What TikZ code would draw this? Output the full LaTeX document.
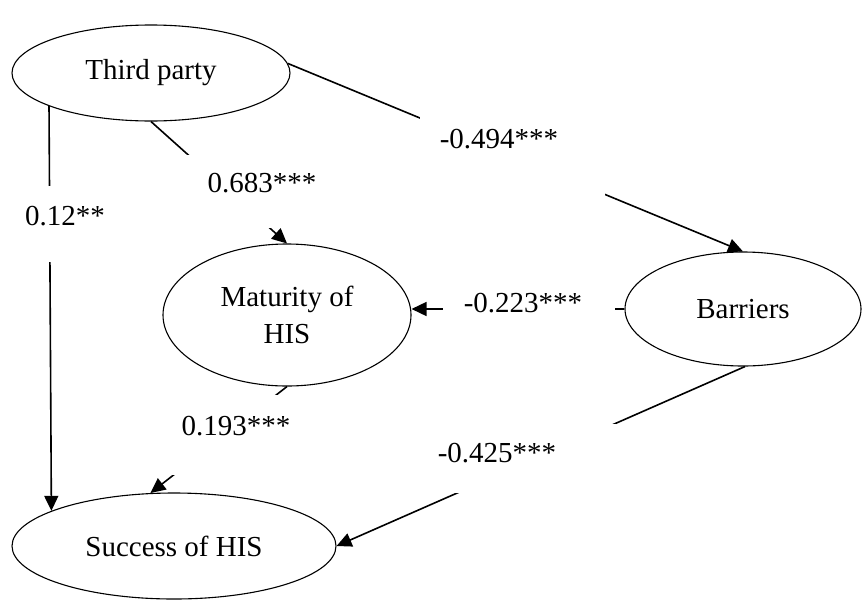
\documentclass[tikz,border=0pt]{standalone}
\usepackage{fontspec}
\setmainfont{Liberation Serif}
\usetikzlibrary{shapes.geometric,arrows.meta}
\begin{document}
\begin{tikzpicture}[x=1pt,y=-1pt,
  construct/.style={draw,ellipse,line width=1.1pt,inner sep=0pt,align=center,
    font=\fontsize{29}{37}\selectfont},
  link/.style={line width=1.6pt,-{Triangle[length=15pt,width=14pt]}},
  blank/.style={fill=white},
  coef/.style={anchor=base,inner sep=0pt,font=\fontsize{29}{35}\selectfont}]
\useasboundingbox (0,0) rectangle (862,600);

% latent constructs
\node[construct,minimum width=278pt,minimum height=96pt] (tp)  at (151,73)  {Third party};
\node[construct,minimum width=248pt,minimum height=142pt] (mat) at (287,315) {Maturity of\\HIS};
\node[construct,minimum width=236pt,minimum height=114pt] (bar) at (743,309) {Barriers};
\node[construct,minimum width=324pt,minimum height=106pt] (suc) at (174,546) {Success of HIS};

% structural paths
\draw[link] (tp.198.8) -- (suc.164);
\draw[link] (tp.south) -- (mat.north);
\draw[link] (tp.4) -- (bar.north);
\draw[link] (bar.west) -- (mat.east |- bar.west);
\draw[link] (mat.south) -- (suc.114.6);
\draw[link] (bar.272) -- (suc.east);

% text boxes that interrupt the paths
\fill[blank] (15,186) rectangle (160,262);
\fill[blank] (186,155) rectangle (330,228);
\fill[blank] (420,100) rectangle (605,200);
\fill[blank] (443,280) rectangle (615,335);
\fill[blank] (160,395) rectangle (300,475);
\fill[blank] (430,424) rectangle (616,493);

% path coefficients
\node[coef] (c1) at (65,225)  {0.12**};
\node[coef] (c2) at (262,192) {0.683***};
\node[coef] (c3) at (499,148) {-0.494***};
\node[coef] (c4) at (523,312) {-0.223***};
\node[coef] (c5) at (236,435) {0.193***};
\node[coef] (c6) at (497,462) {-0.425***};
\end{tikzpicture}
\end{document}
